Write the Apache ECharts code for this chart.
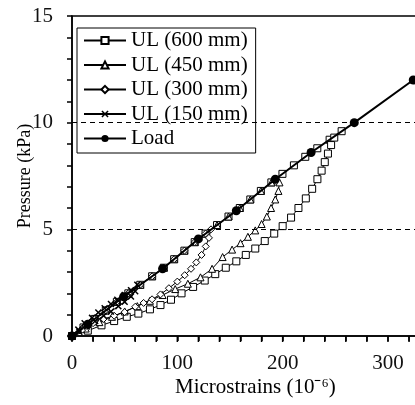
<!DOCTYPE html>
<html>
<head>
<meta charset="utf-8">
<script src="https://cdn.jsdelivr.net/npm/echarts@6/dist/echarts.min.js"></script>
<style>html,body{margin:0;padding:0;background:#fff}#c{width:415px;height:405px}</style>
</head>
<body>
<div id="c"></div>
<script>
// ---- data ----
const seriesNames = ['UL (600 mm)', 'UL (450 mm)', 'UL (300 mm)', 'UL (150 mm)', 'Load'];
const xTickLabels = [0, 100, 200, 300];
const xTickValues = [0, 20, 40, 60, 80, 100, 120, 140, 160, 180, 200, 220, 240, 260, 280, 300, 320, 340];
const yTickLabels = [0, 5, 10, 15];
const refLines = [5, 10];

const load = [[0,0],[15,0.55],[49,1.84],[86,3.15],[120,4.55],[156,5.87],[193,7.35],[227,8.6],[268,10],[324,12]];

const ul600 = [[0,0],[10.9,0.4],[21.6,0.8],[32.1,1.2],[42.6,1.6],[53.5,2.0],[64.8,2.4],[76.1,2.8],[87.2,3.2],[97,3.6],[106.7,4.0],[116.5,4.4],[126.8,4.8],[137.7,5.2],[148.6,5.6],[159.3,6.0],[169.3,6.4],[179.3,6.8],[189.3,7.2],[199.8,7.6],[210.7,8.0],[221.5,8.4],[232.9,8.8],[244.6,9.2],[256,9.6],
  [249,9.3],[246,8.95],[243,8.55],[240,8.15],[237,7.75],[233,7.35],[228,6.9],[222,6.45],[215,6.0],[208,5.55],[200,5.15],[192,4.8],[183,4.45],[174,4.1],[165,3.8],[156,3.5],[146,3.2],[136,2.9],[126,2.6],[115,2.3],[104,2.0],[94,1.7],[84,1.45],[74,1.25],[63,1.05],[52,0.9],[40,0.7],[28,0.5],[15,0.25],[0,0]];

const ul450 = [[0,0],[10.9,0.4],[21.6,0.8],[32.1,1.2],[42.6,1.6],[53.5,2.0],[64.8,2.4],[76.1,2.8],[87.2,3.2],[97,3.6],[106.7,4.0],[116.5,4.4],[126.8,4.8],[137.7,5.2],[148.6,5.6],[159.3,6.0],[169.3,6.4],[179.3,6.8],[189.3,7.2],[197,7.2],
  [196,6.8],[193,6.4],[189,6.0],[185,5.6],[180,5.25],[174,4.95],[167,4.65],[160,4.35],[152,4.05],[143,3.7],[133,3.15],[122,2.75],[110,2.45],[98,2.2],[86,1.92],[74,1.65],[62,1.4],[50,1.15],[38,0.9],[26,0.65],[13,0.35],[0,0]];

const ul300 = [[0,0],[10.9,0.4],[21.6,0.8],[32.1,1.2],[42.6,1.6],[53.5,2.0],[64.8,2.4],[76.1,2.8],[87.2,3.2],[97,3.6],[106.7,4.0],[116.5,4.4],[126.8,4.8],[132,5.0],
  [130,4.6],[127,4.2],[123,3.8],[118,3.45],[113,3.15],[107,2.85],[100,2.55],[92,2.24],[84,1.95],[76,1.72],[68,1.55],[60,1.37],[50,1.12],[40,0.95],[30,0.8],[20,0.6],[10,0.3],[0,0]];

const ul150 = [[0,0],[6,0.3],[12,0.6],[19,0.85],[25,1.1],[31,1.3],[37,1.5],[43,1.7],[50,1.92],[56,2.15],[62,2.4],
  [60,2.1],[56,1.85],[50,1.6],[44,1.4],[37,1.15],[30,0.95],[22,0.7],[14,0.45],[7,0.2],[0,0]];

// ---- chart ----
const FONT = 'Liberation Serif';
const crossPath = 'path://M0,1.5L1.5,0L5,3.5L8.5,0L10,1.5L6.5,5L10,8.5L8.5,10L5,6.5L1.5,10L0,8.5L3.5,5Z';
const hollow = {color:'#fff', borderColor:'#000', borderWidth:1};
const lineSt = {color:'#000', width:1};
const tickSt = {color: '#000', width: 1.5};

const chart = echarts.init(document.getElementById('c'), null, {renderer:'canvas'});
chart.setOption({
  animation: false,
  backgroundColor: '#fff',
  textStyle: {fontFamily: FONT},
  grid: {left: 72, top: 16, width: 421.3, height: 320, containLabel: false, outerBoundsMode: 'none',
    show: true, borderColor: '#000', borderWidth: 1.5, backgroundColor: 'transparent'},
  legend: {
    orient: 'vertical', left: 77, top: 28,
    backgroundColor: '#fff', borderColor: '#000', borderWidth: 1,
    padding: [2, 8, 4, 6],
    itemWidth: 42, itemHeight: 9, itemGap: 3.5,
    textStyle: {fontFamily: FONT, fontSize: 21, color: '#000', lineHeight: 21},
    data: seriesNames
  },
  xAxis: {
    type: 'value', min: 0, max: 400, interval: 100, position: 'bottom',
    axisLine: {show: true, onZero: false, lineStyle: {color: '#000', width: 1.5}},
    axisTick: {show: true, inside: false, length: 5, lineStyle: tickSt},
    minorTick: {show: true, splitNumber: 5, length: 5, lineStyle: tickSt},
    axisLabel: {show: true, hideOverlap: false, fontFamily: FONT, fontSize: 21, color: '#111', margin: 17,
      formatter: v => xTickLabels.indexOf(v) >= 0 ? String(v) : ''},
    splitLine: {show: false}
  },
  yAxis: {
    type: 'value', min: 0, max: 15, interval: 5,
    name: 'Pressure (kPa)', nameLocation: 'middle', nameGap: 38, nameRotate: 90, nameMoveOverlap: false,
    nameTextStyle: {fontFamily: FONT, fontSize: 18, color: '#000'},
    axisLine: {show: true, lineStyle: {color: '#000', width: 1.5}},
    axisTick: {show: true, length: 5, lineStyle: tickSt},
    minorTick: {show: true, splitNumber: 5, length: 5, lineStyle: tickSt},
    axisLabel: {fontFamily: FONT, fontSize: 21, color: '#111', margin: 19,
      formatter: v => yTickLabels.indexOf(v) >= 0 ? String(v) : ''},
    splitLine: {show: false}
  },
  series: [
    {name: seriesNames[0], type: 'line', data: ul600, symbol: 'rect', symbolSize: 7, itemStyle: hollow, lineStyle: lineSt, z: 3},
    {name: seriesNames[1], type: 'line', data: ul450, symbol: 'triangle', symbolSize: 7, itemStyle: hollow, lineStyle: lineSt, z: 3},
    {name: seriesNames[2], type: 'line', data: ul300, symbol: 'diamond', symbolSize: 7, itemStyle: hollow, lineStyle: lineSt, z: 3},
    {name: seriesNames[3], type: 'line', data: ul150, symbol: crossPath, symbolSize: 7, itemStyle: {color: '#000'}, lineStyle: lineSt, z: 3},
    {name: seriesNames[4], type: 'line', data: load, symbol: 'circle', symbolSize: 9, itemStyle: {color: '#000'}, lineStyle: {color: '#000', width: 2}, z: 4,
      markLine: {silent: true, symbol: 'none', label: {show: false},
        lineStyle: {color: '#000', type: [5, 4], width: 1},
        data: refLines.map(v => ({yAxis: v}))}}
  ]
});

// x-axis ticks and axis title placed through the chart's own scale
const tickGraphics = xTickValues.map(v => {
  const p = chart.convertToPixel({gridIndex: 0}, [v, 0]);
  return {type: 'line', z: 100, silent: true,
    shape: {x1: p[0], y1: p[1], x2: p[0], y2: p[1] + 6},
    style: {stroke: '#000', lineWidth: 1.5}};
});
tickGraphics.push({
  type: 'text', left: 175, top: 377, z: 100,
  style: {text: 'Microstrains (10⁻⁶)', fontFamily: FONT, fontSize: 21, fill: '#000'}
});
chart.setOption({graphic: tickGraphics});
</script>
</body>
</html>
